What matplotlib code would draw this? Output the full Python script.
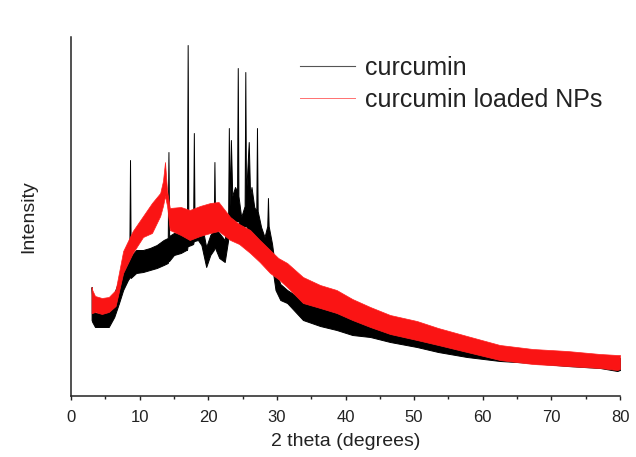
import matplotlib
matplotlib.use("Agg")
import matplotlib.pyplot as plt
from matplotlib.lines import Line2D

plt.rcParams['font.family'] = ['Liberation Sans', 'DejaVu Sans']

# ---- data (arbitrary intensity units) ----
# curcumin loaded NPs (red): noise band lower / upper edges
red_x = [3.0, 3.1, 3.5, 4.5, 5.5, 6.5, 7.6, 9.0, 10.5, 11.8, 13.0, 13.4, 13.7, 14.0,
         14.4, 16.0, 17.3, 18.8, 20.3, 21.5, 23.2, 24.5, 26.1, 27.5, 29.0, 30.2,
         31.5, 33.8, 36.3, 38.7, 41.0, 43.6, 46.5, 50.4, 53.5, 57.7, 62.5, 67.3,
         72.3, 77.1, 79.6, 80.0]
red_upper = [109, 106, 100, 98, 99, 106, 145, 165, 180, 193, 203, 215, 234, 205,
             188, 189, 186, 190, 193, 194, 179, 172, 166, 156, 146, 138,
             133, 119, 111, 106, 97, 89, 81, 75, 68, 60, 51, 47,
             45, 42, 41, 41]
red_lower = [83, 83, 84, 82, 84, 90, 123, 143, 159, 163, 180, 190, 200, 190,
             166, 161, 156, 160, 163, 165, 156, 152, 143, 134, 123, 117,
             109, 93, 88, 83, 76, 69, 62, 56, 51, 44, 36, 32,
             30, 28, 26, 27]

# curcumin (black): noise band lower / upper edges, including sharp peaks
blk_x = [3.0, 3.1, 3.5, 4.5, 5.5, 6.3, 7.0, 7.6, 8.3, 8.5, 8.6, 8.7, 9.5, 10.5,
         11.5, 12.5, 13.5, 14.1, 14.2, 14.3, 15.0, 16.0, 16.8, 16.9, 17.0, 17.1,
         17.5, 17.8, 17.9, 18.0, 18.5, 19.0, 19.7, 20.3, 20.8, 20.9, 21.0, 21.6,
         22.4, 22.9, 23.0, 23.1, 23.3, 23.5, 23.9, 24.2, 24.3, 24.4, 24.8, 25.3,
         25.4, 25.5, 25.9, 26.1, 26.3, 26.7, 27.0, 27.1, 27.2, 27.7, 28.2, 28.6,
         28.7, 28.8, 29.3, 29.8, 30.5, 31.5, 33.8, 36.3, 38.7, 41.0, 43.6, 46.5,
         50.4, 53.5, 57.7, 62.5, 67.3, 72.3, 77.1, 79.6, 80.0]
blk_upper = [109, 96, 83, 83, 86, 103, 116, 131, 143, 143, 236, 140, 146, 146,
             148, 151, 156, 158, 244, 160, 163, 164, 166, 166, 351, 168,
             171, 171, 263, 175, 176, 174, 149, 161, 166, 234, 168, 163,
             156, 181, 268, 190, 256, 200, 209, 205, 328, 200, 179, 190,
             324, 200, 254, 200, 209, 189, 185, 268, 185, 169, 159, 170,
             198, 170, 152, 126, 112, 106, 96, 89, 83, 78, 72, 66,
             62, 56, 50, 46, 44, 42, 40, 38, 38]
blk_lower = [76, 74, 69, 69, 69, 79, 93, 106, 116, 118, 120, 118, 123, 124,
             126, 128, 131, 133, 135, 135, 141, 143, 146, 146, 150, 150,
             151, 152, 155, 155, 156, 151, 129, 141, 146, 148, 148, 138,
             134, 156, 160, 160, 165, 170, 175, 175, 175, 175, 161, 170,
             170, 170, 165, 165, 160, 160, 158, 158, 155, 149, 141, 145,
             145, 140, 130, 106, 96, 93, 76, 70, 66, 61, 59, 54,
             49, 44, 39, 35, 33, 30, 28, 25, 26]

series_labels = ['curcumin', 'curcumin loaded NPs']
x_ticks = [0, 10, 20, 30, 40, 50, 60, 70, 80]

# ---- figure ----
fig = plt.figure(figsize=(6.36, 4.57), dpi=100)
ax = fig.add_axes([71/636, 61/457, 549/636, 359/457])

ax.fill_between(blk_x, blk_lower, blk_upper, color='black', linewidth=0.7,
                edgecolor='black', zorder=2)
ax.fill_between(red_x, red_lower, red_upper, color='#fa1414', linewidth=0.5,
                edgecolor='#ff2020', zorder=3)

ax.set_xlim(0, 80)
ax.set_ylim(0, 359)
ax.set_xticks(x_ticks)
ax.set_xticks(range(5, 80, 10), minor=True)
ax.set_yticks([])
for s in ['top', 'right']:
    ax.spines[s].set_visible(False)
for s in ['left', 'bottom']:
    ax.spines[s].set_linewidth(1.1)
    ax.spines[s].set_color('#222222')
ax.tick_params(axis='x', which='major', direction='out', length=3, width=1.0,
               pad=7, labelsize=12, colors='#222222')
ax.tick_params(axis='x', which='minor', direction='out', length=2, width=1.0,
               colors='#222222')

ax.set_xlabel('2 theta (degrees)', fontsize=14, labelpad=6, color='#222222')
ax.set_ylabel('Intensity', fontsize=14, labelpad=24, color='#222222')

handles = [Line2D([], [], color='#555555', linewidth=0.8),
           Line2D([], [], color='#ff7070', linewidth=0.7)]
ax.legend(handles, series_labels, loc='upper left', frameon=False,
          bbox_to_anchor=(300/636, 1 - 56/457), bbox_transform=fig.transFigure,
          fontsize=18, handlelength=2.2, handletextpad=0.4, borderpad=0,
          borderaxespad=0, labelspacing=0.32, labelcolor='#222222')

fig.savefig('out.png', dpi=100)
